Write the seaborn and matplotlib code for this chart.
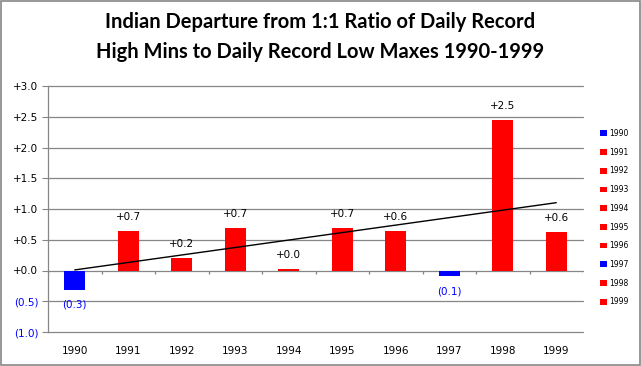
import numpy as np
import pandas as pd
import matplotlib
matplotlib.use("Agg")
import matplotlib.pyplot as plt
import seaborn as sns

# data
years = ["1990", "1991", "1992", "1993", "1994", "1995", "1996", "1997", "1998", "1999"]
departure = [-0.31, 0.65, 0.20, 0.69, 0.02, 0.69, 0.64, -0.09, 2.45, 0.62]
bar_text = ["(0.3)", "+0.7", "+0.2", "+0.7", "+0.0", "+0.7", "+0.6", "(0.1)", "+2.5", "+0.6"]
y_ticks = [-1.0, -0.5, 0.0, 0.5, 1.0, 1.5, 2.0, 2.5, 3.0]
y_tick_text = ["(1.0)", "(0.5)", "+0.0", "+0.5", "+1.0", "+1.5", "+2.0", "+2.5", "+3.0"]

RED = "#ff0000"
BLUE = "#0000ff"
GRID = "#868686"
palette = {y: (BLUE if v < 0 else RED) for y, v in zip(years, departure)}

df = pd.DataFrame({"year": years, "dep": departure})

sns.set_style("white")
plt.rcParams["font.family"] = ["DejaVu Sans"]
plt.rcParams["text.color"] = "black"
plt.rcParams["xtick.color"] = "black"
plt.rcParams["ytick.color"] = "black"

fig = plt.figure(figsize=(6.41, 3.66), dpi=100)
ax = fig.add_axes([48 / 641, 1 - 332 / 366, (583 - 48) / 641, (332 - 86) / 366])

sns.barplot(data=df, x="year", y="dep", hue="year", palette=palette,
            width=0.4, dodge=False, legend=True, ax=ax, saturation=1,
            edgecolor="none", linewidth=0)

# linear trendline
xs = np.arange(len(years))
k, b = np.polyfit(xs, departure, 1)
ax.plot(xs, k * xs + b, color="black", lw=1)

ax.set_ylim(-1.0, 3.0)
ax.set_xlim(-0.5, len(years) - 0.5)
ax.set_yticks(y_ticks)
ax.set_yticklabels(y_tick_text, fontsize=7.5)
for lbl, v in zip(ax.get_yticklabels(), y_ticks):
    lbl.set_color(BLUE if v < 0 else "black")
ax.tick_params(axis="y", length=4, color=GRID, width=0.8, pad=3, left=True)
ax.tick_params(axis="x", length=0, labelsize=7.5, pad=10, labelcolor="black")
ax.set_xlabel("")
ax.set_ylabel("")

for y in y_ticks:
    ax.axhline(y, color=GRID, lw=0.9, zorder=0, clip_on=False)
for s in ["top", "right", "bottom"]:
    ax.spines[s].set_visible(False)
ax.spines["left"].set_color(GRID)
ax.spines["left"].set_linewidth(0.9)

# category boundary ticks on the zero line
ax.vlines(np.arange(-0.5, len(years)), -0.065, 0, color=GRID, lw=0.9)

# value labels
for i, (v, t) in enumerate(zip(departure, bar_text)):
    if v < 0:
        ax.annotate(t, (i, v), xytext=(0, -11), textcoords="offset points",
                    ha="center", va="center", fontsize=7.5, color=BLUE)
    else:
        ax.annotate(t, (i, v), xytext=(0, 10), textcoords="offset points",
                    ha="center", va="center", fontsize=7.5, color="black")

fig.text(0.5, 1 - 12 / 366,
         "Indian Departure from 1:1 Ratio of Daily Record\n"
         "High Mins to Daily Record Low Maxes 1990-1999",
         ha="center", va="top", fontsize=14.5, fontweight="bold", linespacing=1.6,
         family="Lato", color="black")

handles, labels = ax.get_legend_handles_labels()
ax.legend(handles, labels, loc="upper left", bbox_to_anchor=(600 / 641, 1 - 129 / 366),
          bbox_transform=fig.transFigure, frameon=False, fontsize=5.5,
          handlelength=0.9, handleheight=0.8, handletextpad=0.3,
          labelspacing=1.27, borderaxespad=0, borderpad=0)

fig.patches.append(plt.Rectangle((0.001, 0.002), 0.997, 0.995, transform=fig.transFigure,
                                 fill=False, edgecolor=GRID, lw=1.2))

fig.savefig("out.png", dpi=100)
